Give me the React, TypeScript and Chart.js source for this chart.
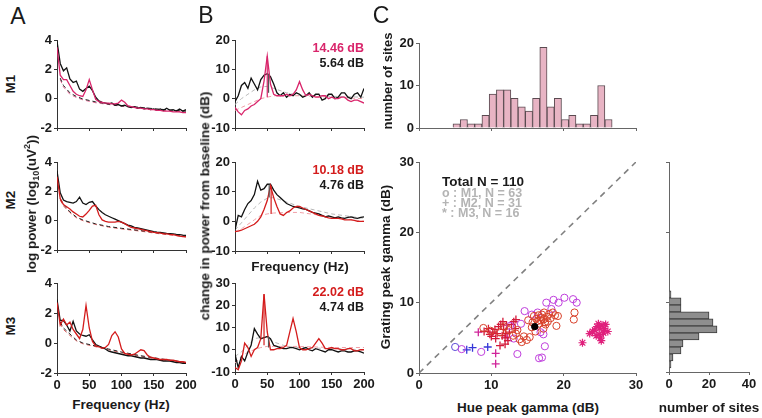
import React, { useEffect, useRef } from "react";
import { Chart, registerables } from "chart.js";
Chart.register(...registerables);

const FONT = "'Liberation Sans', Arial, Helvetica, sans-serif";
const AXIS = "#333333";
const AXIS_C = "#666666";
const PINK = "#d9256b";
const RED = "#d41c1c";

// ---------- spectra (frequency in Hz) ----------
const FREQ = [0,5,10,15,20,25,30,35,40,45,50,55,60,65,70,75,80,85,90,95,100,105,110,115,120,125,130,135,140,145,150,155,160,165,170,175,180,185,190,195,200];

const A1_BLACK = [3.9,2.4,1.9,2.1,1.35,1.1,1.2,0.65,0.5,0.7,0.85,0.55,0.1,-0.15,-0.25,-0.3,-0.35,-0.3,-0.45,-0.4,-0.5,-0.45,-0.55,-0.6,-0.55,-0.65,-0.6,-0.7,-0.65,-0.75,-0.7,-0.8,-0.7,-0.8,-0.65,-0.8,-0.75,-0.85,-0.7,-0.85,-0.75];
const A1_RED = [3.5,1.6,1.3,1.3,0.9,0.5,0.3,0.2,0.15,0.6,1.3,0.6,-0.05,-0.2,-0.25,-0.3,-0.3,-0.35,-0.35,-0.3,-0.1,-0.25,-0.5,-0.55,-0.6,-0.65,-0.65,-0.7,-0.7,-0.75,-0.75,-0.8,-0.8,-0.85,-0.85,-0.85,-0.9,-0.9,-0.9,-0.95,-0.95];
const A2_BLACK = [3.4,1.9,1.4,1.3,1.25,1.2,1.3,1.6,1.2,1.1,1.25,1.3,1.0,0.75,0.55,0.4,0.3,0.2,0.1,0.0,-0.1,-0.2,-0.3,-0.35,-0.45,-0.5,-0.55,-0.6,-0.65,-0.7,-0.75,-0.78,-0.8,-0.83,-0.86,-0.88,-0.9,-0.93,-0.95,-0.98,-1.0];
const A2_RED = [3.0,1.5,1.1,0.95,0.8,0.6,0.45,0.3,0.25,0.45,0.7,1.0,1.05,0.4,0.05,-0.05,-0.1,-0.1,-0.1,-0.05,-0.1,-0.2,-0.35,-0.45,-0.5,-0.55,-0.6,-0.65,-0.7,-0.75,-0.8,-0.82,-0.85,-0.88,-0.9,-0.93,-0.95,-1.0,-1.05,-1.08,-1.1];
const A3_BLACK = [2.9,1.5,1.5,1.2,0.8,1.45,0.8,0.6,0.5,0.45,0.55,0.2,-0.1,-0.2,-0.3,-0.4,-0.55,-0.6,-0.65,-0.7,-0.75,-0.8,-0.85,-0.85,-0.9,-0.95,-1.0,-1.0,-1.05,-1.1,-1.1,-1.1,-1.15,-1.2,-1.2,-1.2,-1.25,-1.3,-1.3,-1.35,-1.35];
const A3_RED = [2.7,1.2,1.6,1.2,1.4,0.9,0.6,0.3,0.9,2.5,1.0,0.1,-0.2,-0.25,-0.35,-0.3,-0.1,0.5,0.75,0.4,-0.4,-0.7,-0.75,-0.8,-0.75,-0.6,-0.45,-0.5,-0.8,-0.95,-1.0,-1.05,-1.1,-1.1,-1.1,-1.15,-1.15,-1.2,-1.25,-1.25,-1.3];

const FIT_FREQ = [5,10,20,30,40,60,80,100,130,160,200];
const A1_FIT_BLACK = [1.4,0.9,0.4,0.15,-0.02,-0.22,-0.36,-0.47,-0.6,-0.72,-0.85];
const A1_FIT_RED = [1.3,0.8,0.3,0.08,-0.08,-0.28,-0.4,-0.52,-0.66,-0.78,-0.92];
const A2_FIT_BLACK = [1.5,1.1,0.6,0.25,0.05,-0.22,-0.4,-0.52,-0.68,-0.85,-1.05];
const A2_FIT_RED = [1.4,1.0,0.55,0.2,0.0,-0.26,-0.44,-0.56,-0.72,-0.9,-1.1];
const A3_FIT_BLACK = [1.4,1.0,0.6,0.2,0.0,-0.2,-0.4,-0.6,-0.85,-1.05,-1.3];
const A3_FIT_RED = [1.3,0.9,0.5,0.15,-0.05,-0.25,-0.45,-0.65,-0.9,-1.1,-1.32];

const B1_BLACK = [-1,1,4.5,5.5,3.5,7,5,3,6.5,8,8.5,7.5,5,2,1,2,0.5,1.5,1,2,1.5,0.5,1,2,0.5,1.5,1.5,-0.5,0,1.5,1.5,0,0.5,2,2,0.5,0,1.5,2,0.5,3.5];
const B1_RED = [-3,-4.5,-5.5,-4,-3.5,-2.5,-2,-1,0,6,14.5,5,1.5,1,1,1,1.5,1,1.5,3,5.8,3,1,1.5,1,0.5,0.5,1,1,0,0.5,0,0,0.5,0.5,-0.5,-1,-0.5,-0.5,-1,-1.5];
const B2_BLACK = [-3,2,1.5,4,6,7,9,13.5,10.5,11,12.5,12.5,10.5,9,8,7,6,5.5,5,4.8,4.5,4.2,4,3.5,3,2.8,2.5,2,1.5,1.8,1.5,1.2,1.5,1.2,1,1.3,1.5,1.2,1,1.3,1.5];
const B2_RED = [-3.5,-3.3,-3,-2.5,-2,-1.5,-1,0,1.5,4,7,12,8,5,2.5,2,3,3.5,4.5,5,5,4.5,4,3.5,3,2.5,2,1.8,1.5,1.2,1,1,1,0.8,0.5,0.5,0.5,0.3,0,0,0];
const B3_BLACK = [-2,-8,-3,-5,-1,2,9.5,7,5,5.5,6,5,2,1.5,1,0.5,0.5,1,1,0.5,0,0.5,1,0,-0.5,0.5,0,-0.5,-1,0,0,-0.5,-1,-0.5,-0.5,-1,-1,-0.5,-0.5,-1,-1.5];
const B3_RED = [-8,-9,-5,3,1,-3,0,1,5,25,8,0,0,0.5,0.5,1,2,8,14,8,1,0,0,0.5,1,3,5,3,0.5,0.5,1,0.5,0.5,0,0,0.5,0.5,-0.5,-0.5,0,0];

const B_FIT_FREQ = [0,10,20,30,40,50,60,80,100,150,200];
const B1_FIT_GRAY = [-2,0,1.5,3,4,4.2,3.5,2,1.2,0.8,0.5];
const B1_FIT_RED = [-4,-3,-2,-1,0,0.5,1,1,1,0.5,0];
const B2_FIT_GRAY = [-3,-0.5,2,4.5,6.5,7.8,8,6.5,5,2.5,1];
const B2_FIT_RED = [-3.5,-2.5,-1,0.5,2,2.5,2.8,3,3,1.5,0];
const B3_FIT_GRAY = [-3,-1,2,5,5.5,5.5,3.5,1.5,1,0.5,0];
const B3_FIT_RED = [-6,-3,-1,0,1,1.5,1.5,1.5,1.5,1,1];

// peak markers: [freq, from, to]
const B1_PEAK_RED = [50, 0.5, 14.5];
const B1_PEAK_BLACK = [52, 2, 8.5];
const B2_PEAK_RED = [56, 2.5, 12];
const B2_PEAK_BLACK = [53, 8, 12.5];
const B3_PEAK_RED = [45, 2, 25];
const B3_PEAK_BLACK = [52, 1, 6];

// ---------- panel C ----------
const HUE_BIN_CENTERS = [5.2,6.2,7.2,8.2,9.2,10.2,11.2,12.2,13.2,14.2,15.2,16.2,17.2,18.2,19.2,20.2,21.2,22.2,23.2,24.2,25.2,26.2];
const HUE_COUNTS = [1,2,1,1,3,8,9,9,7,5,4,7,19,5,7,2,3,1,1,3,10,2];
const GRATING_BIN_CENTERS = [1.1,2.1,3.1,4.1,5.1,6.1,7.1,8.1,9.1,10.1,11.1];
const GRATING_COUNTS = [1,2,6,7,15,24,22,20,6,6,1];

const M1_RED_CIRCLES = [[8.9,6.4],[9.9,6.0],[11.2,5.8],[11.8,6.6],[12.4,6.1],[13.0,5.3],[13.4,5.6],[13.6,6.1],[13.9,4.8],[14.2,4.4],[14.5,5.2],[14.9,4.7],[15.3,5.1],[15.1,7.5],[15.7,7.2],[15.9,8.1],[16.2,7.7],[16.4,7.4],[16.6,7.0],[16.8,7.5],[16.9,7.9],[17.0,8.3],[17.2,7.6],[17.3,8.6],[17.4,7.2],[17.5,6.9],[17.7,8.0],[17.8,7.3],[18.0,8.4],[18.2,7.8],[18.5,8.6],[18.8,8.2],[19.0,6.7],[19.2,8.1],[21.5,8.6],[21.4,7.6],[16.1,5.9],[15.6,6.5],[17.2,6.3],[16.5,8.2]];
const M1_VIOLET_CIRCLES = [[5.9,3.4],[8.6,3.0],[13.6,2.7],[16.6,2.1],[17.0,2.2],[17.4,3.8],[17.2,5.5],[17.6,10.0],[18.6,10.4],[19.3,10.0],[20.1,10.7],[21.3,10.5],[21.8,10.0],[14.6,8.8],[15.6,8.3],[16.4,8.6],[12.6,6.7],[13.1,4.9],[14.1,7.0],[16.8,5.8],[18.3,9.1]];
const M1_BLUE_CIRCLES = [[5.0,3.7]];
const MEAN_POINT = [[16.0,6.6]];
const M2_RED_CROSSES = [[9.0,5.9],[9.6,6.3],[9.8,5.5],[10.2,5.8],[10.5,6.2],[10.8,5.6],[11.0,6.6],[11.3,6.9],[11.5,5.3],[11.7,6.2],[11.6,7.3],[11.9,5.0],[12.1,6.8],[12.3,4.6],[12.5,5.8],[12.8,6.9],[13.1,7.3],[13.4,7.6],[11.2,3.9],[10.6,4.9],[12.0,5.6],[13.3,6.3],[10.0,5.2],[11.9,4.1]];
const M2_MAGENTA_CROSSES = [[8.2,5.8],[10.6,2.8],[10.6,1.3],[12.2,5.1]];
const M2_BLUE_CROSSES = [[6.6,3.3],[7.4,3.6],[9.5,3.7]];
const M3_STARS = [[22.6,4.3],[23.6,5.6],[24.0,5.9],[24.3,6.1],[24.5,5.3],[24.6,6.6],[24.8,7.0],[25.0,6.4],[25.1,5.0],[25.2,4.6],[25.3,6.8],[25.5,5.7],[25.6,6.3],[25.8,6.9],[26.1,5.9],[24.9,5.5]];
const DIAGONAL = [[0,0],[30,30]];

// ---------- helpers ----------
const PL = 34, PT = 10, PR = 16, PB = 22;

const zip = (xs: number[], ys: number[]) => xs.map((x, i) => ({ x, y: ys[i] }));
const pts = (a: number[][]) => a.map(([x, y]) => ({ x, y }));
const peak = (p: number[]) => [{ x: p[0], y: p[1] }, { x: p[0], y: p[2] }];

function lineDs(data: any[], color: string, width = 1, dash: number[] = []) {
  return { type: "line", data, borderColor: color, backgroundColor: color, borderWidth: width, borderDash: dash, pointRadius: 0, tension: 0, fill: false };
}

function axis(dir: "x" | "y", min: number, max: number, step: number, labels: boolean, color = AXIS, size = 13) {
  return {
    type: "linear", min, max, offset: false,
    ticks: { stepSize: step, display: labels, color: "#1a1a1a", font: { family: FONT, weight: "bold", size }, padding: 2, maxRotation: 0, autoSkip: false },
    grid: { display: true, drawOnChartArea: false, drawTicks: true, tickLength: 3, color, offset: false },
    border: { display: true, color, width: 1 },
    afterFit: (s: any) => {
      if (dir === "y") { s.width = PL; s.paddingTop = 0; s.paddingBottom = 0; }
      else { s.height = PB; s.paddingLeft = 0; s.paddingRight = 0; }
    },
  };
}

function baseOptions(x: any, y: any, extra: any = {}) {
  return {
    responsive: false, animation: false, events: [],
    layout: { padding: { top: PT, right: PR, left: 0, bottom: 0 } },
    plugins: { legend: { display: false }, tooltip: { enabled: false } },
    scales: { x, y },
    ...extra,
  };
}

type Area = { l: number; t: number; r: number; b: number };

function ChartBox({ area, make }: { area: Area; make: () => any }) {
  const ref = useRef<HTMLCanvasElement>(null);
  const w = area.r - area.l + PL + PR;
  const h = area.b - area.t + PT + PB;
  useEffect(() => {
    const c = new Chart(ref.current as HTMLCanvasElement, make());
    return () => c.destroy();
  }, []);
  return <canvas ref={ref} width={w} height={h} style={{ position: "absolute", left: area.l - PL, top: area.t - PT, width: w, height: h }} />;
}

function Txt({ x, y, children, size = 13.5, rot = false, color = "#1a1a1a", weight = "bold", anchor = "center" }: any) {
  const tx = anchor === "center" ? "-50%" : anchor === "right" ? "-100%" : "0";
  return (
    <div style={{ position: "absolute", left: x, top: y, transform: `translate(${tx},-50%)${rot ? " rotate(-90deg)" : ""}`, fontFamily: FONT, fontSize: size, fontWeight: weight as any, color, whiteSpace: "nowrap", lineHeight: 1 }}>
      {children}
    </div>
  );
}

function spectrumA(black: number[], red: number[], fitB: number[], fitR: number[], redColor: string, labels: boolean) {
  return () => ({
    type: "line",
    data: {
      datasets: [
        lineDs(zip(FREQ, red), redColor, 1.3),
        lineDs(zip(FREQ, black), "#111111", 1.3),
        lineDs(zip(FIT_FREQ, fitB), "#222222", 1, [4, 3]),
        lineDs(zip(FIT_FREQ, fitR), redColor === PINK ? "#e46a96" : "#e06060", 1, [4, 3]),
      ],
    },
    options: baseOptions(axis("x", 0, 200, 50, labels), axis("y", -2, 4, 2, true)),
  });
}

function spectrumB(black: number[], red: number[], fitG: number[], fitR: number[], pR: number[], pB: number[], redColor: string, ymax: number, labels: boolean) {
  return () => ({
    type: "line",
    data: {
      datasets: [
        lineDs(peak(pB), "#555555", 1.2),
        lineDs(peak(pR), redColor, 1.2),
        lineDs(zip(FREQ, red), redColor, 1.3),
        lineDs(zip(FREQ, black), "#111111", 1.3),
        lineDs(zip(B_FIT_FREQ, fitG), "#b8b8b8", 1, [4, 3]),
        lineDs(zip(B_FIT_FREQ, fitR), "#f0a0a8", 1, [4, 3]),
      ],
    },
    options: baseOptions(axis("x", 0, 200, 50, labels), axis("y", -10, ymax, 10, true)),
  });
}

function scatterDs(data: number[][], color: string, style: string, radius: number, width = 1, fill = "transparent") {
  return { type: "scatter", data: pts(data), pointStyle: style, pointRadius: radius, borderColor: color, backgroundColor: fill, pointBorderWidth: width, borderWidth: width, showLine: false };
}

const makeScatter = () => ({
  type: "scatter",
  data: {
    datasets: [
      scatterDs(MEAN_POINT, "#000000", "circle", 3.2, 1, "#000000"),
      scatterDs(M1_RED_CIRCLES, "#d8402a", "circle", 3.6),
      scatterDs(M1_VIOLET_CIRCLES, "#bf3fdc", "circle", 3.6),
      scatterDs(M1_BLUE_CIRCLES, "#5a4ad6", "circle", 3.6),
      scatterDs(M2_RED_CROSSES, "#d41a3a", "cross", 4, 1.3),
      scatterDs(M2_MAGENTA_CROSSES, "#d0249a", "cross", 4, 1.3),
      scatterDs(M2_BLUE_CROSSES, "#3636d8", "cross", 4, 1.3),
      scatterDs(M3_STARS, "#e0207c", "star", 4, 1.2),
      { type: "line", data: pts(DIAGONAL), borderColor: "#808080", borderWidth: 1.6, borderDash: [6, 5], pointRadius: 0, fill: false },
    ],
  },
  options: baseOptions(axis("x", 0, 30, 10, true, AXIS_C), axis("y", 0, 30, 10, true, AXIS_C)),
});

const makeHueHist = () => ({
  type: "bar",
  data: {
    datasets: [{
      data: zip(HUE_BIN_CENTERS, HUE_COUNTS),
      backgroundColor: "#e8b4c4", borderColor: "#5a4a50", borderWidth: 1,
      barPercentage: 1, categoryPercentage: 1,
    }],
  },
  options: baseOptions(axis("x", 0, 30, 10, false, AXIS_C), axis("y", 0, 20, 10, true, AXIS_C)),
});

const makeGratingHist = () => ({
  type: "bar",
  data: {
    datasets: [{
      data: GRATING_BIN_CENTERS.map((c, i) => ({ x: GRATING_COUNTS[i], y: c })),
      backgroundColor: "#8e8e8e", borderColor: "#3c3c3c", borderWidth: 1,
      barPercentage: 1, categoryPercentage: 1,
    }],
  },
  options: baseOptions(axis("x", 0, 40, 20, true, AXIS_C), axis("y", 0, 30, 10, false, AXIS_C), { indexAxis: "y" }),
});

export default function App() {
  return (
    <div style={{ position: "absolute", left: 0, top: 0, width: 762, height: 418, background: "#ffffff", overflow: "hidden" }}>
      <ChartBox area={{ l: 57, t: 40, r: 186, b: 128 }} make={spectrumA(A1_BLACK, A1_RED, A1_FIT_BLACK, A1_FIT_RED, PINK, false)} />
      <ChartBox area={{ l: 57, t: 162, r: 186, b: 250 }} make={spectrumA(A2_BLACK, A2_RED, A2_FIT_BLACK, A2_FIT_RED, RED, false)} />
      <ChartBox area={{ l: 57, t: 283, r: 186, b: 373 }} make={spectrumA(A3_BLACK, A3_RED, A3_FIT_BLACK, A3_FIT_RED, RED, true)} />

      <ChartBox area={{ l: 235, t: 40, r: 364, b: 128 }} make={spectrumB(B1_BLACK, B1_RED, B1_FIT_GRAY, B1_FIT_RED, B1_PEAK_RED, B1_PEAK_BLACK, PINK, 20, false)} />
      <ChartBox area={{ l: 235, t: 162, r: 364, b: 251 }} make={spectrumB(B2_BLACK, B2_RED, B2_FIT_GRAY, B2_FIT_RED, B2_PEAK_RED, B2_PEAK_BLACK, RED, 20, false)} />
      <ChartBox area={{ l: 235, t: 283, r: 364, b: 372 }} make={spectrumB(B3_BLACK, B3_RED, B3_FIT_GRAY, B3_FIT_RED, B3_PEAK_RED, B3_PEAK_BLACK, RED, 30, true)} />

      <ChartBox area={{ l: 419, t: 43, r: 636, b: 128 }} make={makeHueHist} />
      <ChartBox area={{ l: 419, t: 162, r: 636, b: 373 }} make={makeScatter} />
      <ChartBox area={{ l: 669, t: 162, r: 749, b: 372 }} make={makeGratingHist} />

      <Txt x={18} y={16} size={23} weight="normal">A</Txt>
      <Txt x={206} y={15} size={23} weight="normal">B</Txt>
      <Txt x={381} y={15} size={23} weight="normal">C</Txt>

      <Txt x={11} y={84} rot>M1</Txt>
      <Txt x={11} y={200} rot>M2</Txt>
      <Txt x={11} y={326} rot>M3</Txt>

      <Txt x={32} y={204} rot>log power (log<sub style={{ fontSize: 9 }}>10</sub>(uV<sup style={{ fontSize: 9 }}>2</sup>))</Txt>
      <Txt x={205} y={206} rot>change in power from baseline (dB)</Txt>
      <Txt x={121} y={405} size={13.5}>Frequency (Hz)</Txt>
      <Txt x={300} y={267} size={13.5}>Frequency (Hz)</Txt>

      <Txt x={364} y={48} size={12.5} color={PINK} anchor="right">14.46 dB</Txt>
      <Txt x={364} y={63} size={12.5} anchor="right">5.64 dB</Txt>
      <Txt x={364} y={170} size={12.5} color={RED} anchor="right">10.18 dB</Txt>
      <Txt x={364} y={185} size={12.5} anchor="right">4.76 dB</Txt>
      <Txt x={364} y={292} size={12.5} color={RED} anchor="right">22.02 dB</Txt>
      <Txt x={364} y={307} size={12.5} anchor="right">4.74 dB</Txt>

      <Txt x={387} y={81} rot size={13}>number of sites</Txt>
      <Txt x={386} y={267} rot size={13.5}>Grating peak gamma (dB)</Txt>
      <Txt x={528} y={408} size={13.5}>Hue peak gamma (dB)</Txt>
      <Txt x={709} y={408} size={13.5}>number of sites</Txt>

      <Txt x={442} y={182} size={13.5} anchor="left">Total N = 110</Txt>
      <Txt x={442} y={193} size={12.5} color="#b4b4b4" anchor="left">o : M1, N = 63</Txt>
      <Txt x={442} y={203} size={12.5} color="#b4b4b4" anchor="left">+ : M2, N = 31</Txt>
      <Txt x={442} y={213} size={12.5} color="#b4b4b4" anchor="left">* : M3, N = 16</Txt>
    </div>
  );
}
